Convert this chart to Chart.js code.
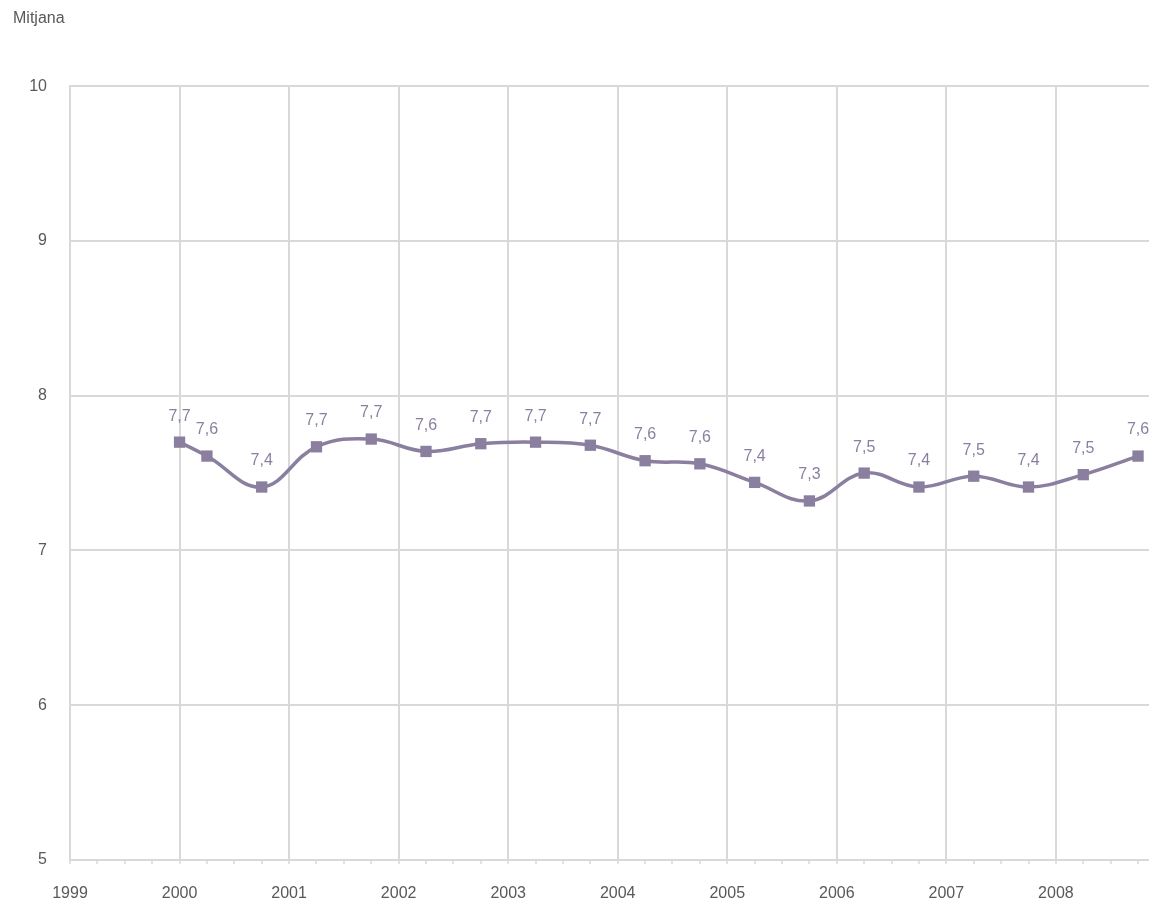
<!DOCTYPE html>
<html>
<head>
<meta charset="utf-8">
<script src="https://cdn.jsdelivr.net/npm/chart.js@4/dist/chart.umd.min.js"></script>
<style>
  html, body { margin: 0; padding: 0; background: #fff; }
  #wrap { width: 1149px; height: 900px; }
</style>
</head>
<body>
<div id="wrap"><canvas id="lineCanvas"></canvas></div>
<script>
const years = [2000, 2000.25, 2000.75, 2001.25, 2001.75, 2002.25, 2002.75, 2003.25, 2003.75,
               2004.25, 2004.75, 2005.25, 2005.75, 2006.25, 2006.75, 2007.25, 2007.75, 2008.25, 2008.75];
const mitjana = [7.70, 7.61, 7.41, 7.67, 7.72, 7.64, 7.69, 7.70, 7.68,
                 7.58, 7.56, 7.44, 7.32, 7.50, 7.41, 7.48, 7.41, 7.49, 7.61];
const yTicks = [5, 6, 7, 8, 9, 10];

const purple = "#8b7fa0";
const grey = "#d9d9d9";
const textGrey = "#595959";
const fontFamily = "'Liberation Sans', Arial, sans-serif";

const isYear = v => Math.abs(v - Math.round(v)) < 1e-6;

// labels with comma decimals above each point
const valueLabels = {
    id: "valueLabels",
    afterDatasetsDraw(chart) {
        const ctx = chart.ctx;
        const meta = chart.getDatasetMeta(0);
        ctx.save();
        ctx.font = "16px " + fontFamily;
        ctx.fillStyle = purple;
        ctx.textAlign = "center";
        ctx.textBaseline = "middle";
        meta.data.forEach((pt, i) => {
            const txt = mitjana[i].toFixed(1).replace(".", ",");
            ctx.fillText(txt, pt.x, pt.y - 26);
        });
        ctx.restore();
    }
};

const lineChart = new Chart(document.getElementById("lineCanvas"), {
    type: "line",
    data: {
        datasets: [{
            label: "Mitjana",
            data: years.map((x, i) => ({x: x, y: mitjana[i]})),
            borderColor: purple,
            backgroundColor: purple,
            borderWidth: 3.5,
            tension: 0.4,
            pointStyle: "rect",
            pointRadius: 8,
            pointBorderWidth: 0,
            clip: false
        }]
    },
    options: {
        responsive: true,
        maintainAspectRatio: false,
        animation: false,
        layout: {
            autoPadding: false,
            padding: {left: 13, top: 0, right: 0, bottom: 0}
        },
        scales: {
            x: {
                type: "linear",
                min: 1999,
                max: 2008.85,
                afterFit: s => { s.height = 40; },
                ticks: {
                    stepSize: 0.25,
                    includeBounds: false,
                    autoSkip: false,
                    maxRotation: 0,
                    padding: 0,
                    color: textGrey,
                    // tall line height pushes the year labels down without side padding
                    font: {size: 16, family: fontFamily, lineHeight: 3.7},
                    callback: v => isYear(v) ? String(Math.round(v)) : ""
                },
                grid: {
                    color: ctx => (ctx.tick && isYear(ctx.tick.value)) ? grey : "rgba(0,0,0,0)",
                    lineWidth: 2,
                    tickColor: grey,
                    tickLength: 4,
                    tickWidth: 1.5
                },
                border: {color: grey, width: 2}
            },
            y: {
                min: yTicks[0],
                max: yTicks[yTicks.length - 1],
                afterFit: s => { s.width = 57; },
                afterBuildTicks: s => { s.ticks = yTicks.map(v => ({value: v})); },
                ticks: {
                    padding: 23,
                    color: textGrey,
                    font: {size: 16, family: fontFamily}
                },
                grid: {
                    color: grey,
                    lineWidth: 2,
                    drawTicks: false
                },
                border: {color: grey, width: 2}
            }
        },
        plugins: {
            legend: {display: false},
            tooltip: {enabled: false},
            title: {
                display: true,
                text: "Mitjana",
                align: "start",
                color: textGrey,
                font: {size: 16, family: fontFamily, weight: "normal"},
                padding: {top: 9, bottom: 58}
            }
        }
    },
    plugins: [valueLabels]
});
</script>
</body>
</html>
